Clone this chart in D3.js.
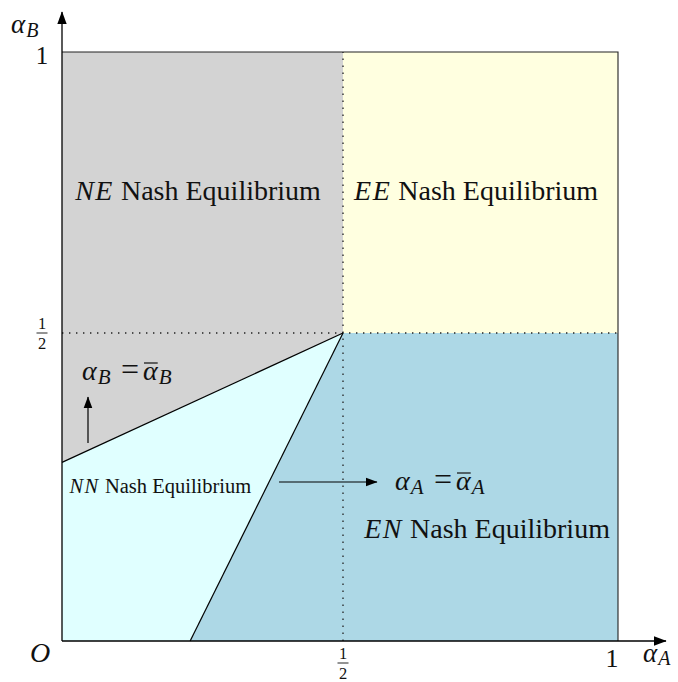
<!DOCTYPE html>
<html>
<head>
<meta charset="utf-8">
<script src="https://cdn.jsdelivr.net/npm/d3@7"></script>
<style>
  html, body { margin: 0; padding: 0; background: #fff; }
  svg text { font-family: "Liberation Serif", "DejaVu Serif", serif; fill: #111; }
</style>
</head>
<body>
<svg id="chart" width="678" height="682" font-family="Liberation Serif, DejaVu Serif, serif"></svg>
<script>
// Boundaries of the equilibrium regions in (alpha_A, alpha_B) space
const half = 0.5;
const barAlphaBIntercept = 0.29;    // alpha_B = bar alpha_B meets alpha_A = 0
const barAlphaAIntercept = 0.228;   // alpha_A = bar alpha_A meets alpha_B = 0

const regionNames = ["NE", "EE", "EN", "NN"];
const regionColors = ["#d3d3d3", "#ffffe0", "#add8e6", "#e0ffff"];
const regionPolygons = [
  [[0, barAlphaBIntercept], [half, half], [half, 1], [0, 1]],
  [[half, half], [1, half], [1, 1], [half, 1]],
  [[barAlphaAIntercept, 0], [1, 0], [1, half], [half, half]],
  [[0, 0], [barAlphaAIntercept, 0], [half, half], [0, barAlphaBIntercept]]
];
// Label anchor points (alpha_A, alpha_B) and font sizes
const regionLabelPos = [[0.242, 0.737], [0.742, 0.737], [0.762, 0.167], [0.175, 0.240]];
const regionLabelSize = [28, 28, 28, 20.5];

const xTicks = [0, 0.5, 1];
const yTicks = [0, 0.5, 1];

const serif = "'Liberation Serif', 'DejaVu Serif', serif";
const svg = d3.select("#chart");
// Piecewise scales: the one-half guides sit slightly off-centre
const x = d3.scaleLinear().domain([0, 0.5, 1]).range([62, 343, 618]);
const y = d3.scaleLinear().domain([0, 0.5, 1]).range([641, 333, 52]);

const defs = svg.append("defs");
function addMarker(id, size) {
  defs.append("marker")
    .attr("id", id).attr("viewBox", "0 0 10 10")
    .attr("refX", 9.5).attr("refY", 5)
    .attr("markerWidth", size).attr("markerHeight", size)
    .attr("markerUnits", "userSpaceOnUse")
    .attr("orient", "auto")
    .append("path").attr("d", "M0,1.3 L10,5 L0,8.7 z").attr("fill", "#000");
}
addMarker("arrow", 12);
addMarker("axisArrow", 13);

const line = d3.line().x(d => x(d[0])).y(d => y(d[1]));

// Regions
svg.append("g").selectAll("path")
  .data(regionPolygons)
  .join("path")
  .attr("d", d => line(d) + "Z")
  .attr("fill", (d, i) => regionColors[i])
  .attr("stroke", "none");

// Outer frame (top and right edges)
svg.append("path")
  .attr("d", line([[0, 1], [1, 1], [1, 0]]))
  .attr("fill", "none").attr("stroke", "#222").attr("stroke-width", 1.1);

// Dotted guides at one half
[[[half, 0], [half, 1]], [[0, half], [1, half]]].forEach(seg => {
  svg.append("path")
    .attr("d", line(seg))
    .attr("stroke", "#222").attr("stroke-width", 1.3)
    .attr("stroke-dasharray", "1.4,5.6").attr("fill", "none");
});

// Boundary lines
svg.append("path")
  .attr("d", line([[0, barAlphaBIntercept], [half, half]]))
  .attr("stroke", "#000").attr("stroke-width", 1.2).attr("fill", "none");
svg.append("path")
  .attr("d", line([[barAlphaAIntercept, 0], [half, half]]))
  .attr("stroke", "#000").attr("stroke-width", 1.2).attr("fill", "none");

// Axes with arrowheads
svg.append("line")
  .attr("x1", x(0)).attr("y1", y(0)).attr("x2", 666).attr("y2", y(0))
  .attr("stroke", "#000").attr("stroke-width", 1.3).attr("marker-end", "url(#axisArrow)");
svg.append("line")
  .attr("x1", x(0)).attr("y1", y(0)).attr("x2", x(0)).attr("y2", 12)
  .attr("stroke", "#000").attr("stroke-width", 1.3).attr("marker-end", "url(#axisArrow)");

function txt(px, py, size) {
  return svg.append("text").attr("x", px).attr("y", py)
    .attr("font-family", serif).attr("font-size", size);
}

// alpha with a subscript letter
function alphaSub(px, py, sub, size, subSize, subDy) {
  const t = txt(px, py, size);
  t.append("tspan").attr("font-style", "italic").text("α");
  t.append("tspan").attr("font-style", "italic").attr("font-size", subSize)
    .attr("dx", 1).attr("dy", subDy).text(sub);
  return t;
}

// Fraction one half
function fraction(cx, numBase) {
  txt(cx, numBase, 16.5).attr("text-anchor", "middle").text("1");
  svg.append("line").attr("x1", cx - 5.5).attr("x2", cx + 5.5)
    .attr("y1", numBase + 4).attr("y2", numBase + 4)
    .attr("stroke", "#111").attr("stroke-width", 0.9);
  txt(cx, numBase + 20, 16.5).attr("text-anchor", "middle").text("2");
}

// Tick labels
yTicks.forEach(v => {
  if (v === 1) txt(42, y(v) + 12, 25).attr("text-anchor", "middle").text("1");
  if (v === half) fraction(42, y(v) - 4);
});
xTicks.forEach(v => {
  if (v === 1) txt(x(v) - 6, 667, 26).attr("text-anchor", "middle").text("1");
  if (v === half) fraction(x(v), 659);
  if (v === 0) txt(40, 662, 28).attr("text-anchor", "middle")
    .attr("font-style", "italic").text("O");
});

// Axis titles
alphaSub(11, 33, "B", 27, 20, 4);
alphaSub(643, 662, "A", 27, 20, 3);

// Region labels
regionNames.forEach((name, i) => {
  const t = txt(x(regionLabelPos[i][0]), y(regionLabelPos[i][1]), regionLabelSize[i])
    .attr("text-anchor", "middle");
  t.append("tspan").attr("font-style", "italic").attr("letter-spacing", 1.5).text(name);
  t.append("tspan").text(" Nash Equilibrium");
});

// Boundary equations: alpha_X = bar alpha_X
function equation(px, py, sub) {
  alphaSub(px, py, sub, 28, 21, 4);
  txt(px + 48, py, 32).attr("text-anchor", "middle").text("=");
  const t = alphaSub(px + 61, py, sub, 28, 21, 4);
  const a = t.select("tspan").node();
  const start = a.getStartPositionOfChar(0);
  const end = a.getEndPositionOfChar(0);
  svg.append("line")
    .attr("x1", start.x + 1).attr("x2", end.x)
    .attr("y1", py - 17).attr("y2", py - 17)
    .attr("stroke", "#111").attr("stroke-width", 1.2);
}
equation(82, 380, "B");
equation(395, 490, "A");

// Direction arrows
svg.append("line").attr("x1", 88).attr("y1", 443).attr("x2", 88).attr("y2", 397)
  .attr("stroke", "#000").attr("stroke-width", 1.2).attr("marker-end", "url(#arrow)");
svg.append("line").attr("x1", 279).attr("y1", 482).attr("x2", 377).attr("y2", 482)
  .attr("stroke", "#000").attr("stroke-width", 1.2).attr("marker-end", "url(#arrow)");
</script>
</body>
</html>
